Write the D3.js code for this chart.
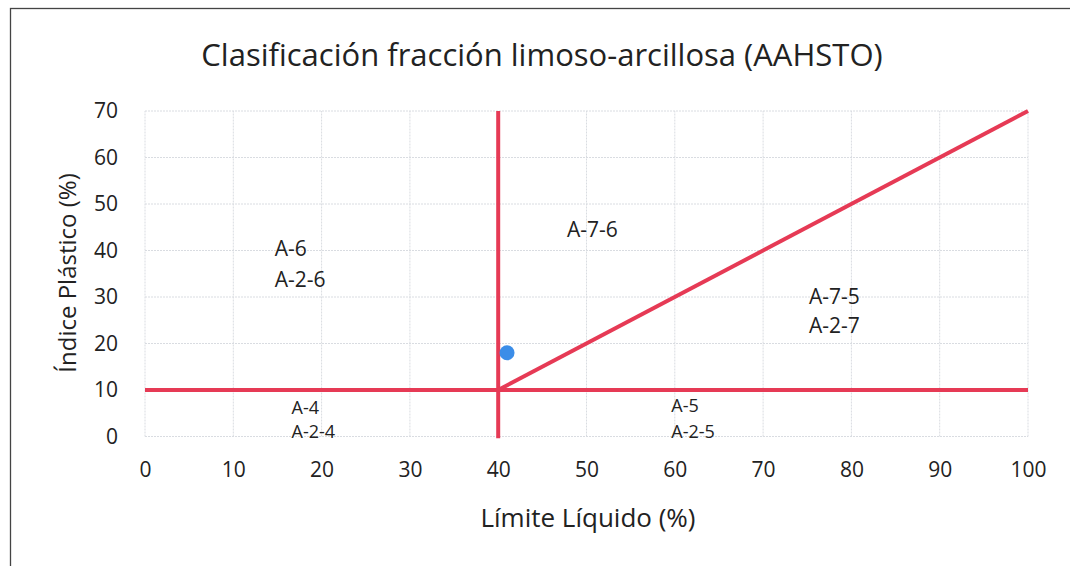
<!DOCTYPE html>
<html><head><meta charset="utf-8">
<script src="https://cdn.jsdelivr.net/npm/d3@7"></script>
<style>
body{margin:0;background:#fff;}
svg text{font-family:"Open Sans","Noto Sans",sans-serif;fill:#222;}
</style></head>
<body><svg id="c" width="1070" height="566"></svg>
<script>
const title = "Clasificación fracción limoso-arcillosa (AAHSTO)";
const xTitle = "Límite Líquido (%)";
const yTitle = "Índice Plástico (%)";
const xTicks = [0,10,20,30,40,50,60,70,80,90,100];
const yTicks = [0,10,20,30,40,50,60,70];
const lineHorizontal = [[0,10],[100,10]];
const lineVertical = [[40,70],[40,-0.4]];
const lineDiagonal = [[40,10],[100,70]];
const samplePoint = [[41,18]];
const zoneLabels = [
  {t:"A-6", x:14.7, y:40.5, big:true},
  {t:"A-2-6", x:14.7, y:33.8, big:true},
  {t:"A-7-6", x:47.8, y:44.4, big:true},
  {t:"A-7-5", x:75.2, y:30.0, big:true},
  {t:"A-2-7", x:75.2, y:23.9, big:true},
  {t:"A-4", x:16.6, y:6.3, big:false},
  {t:"A-2-4", x:16.6, y:1.1, big:false},
  {t:"A-5", x:59.6, y:6.6, big:false},
  {t:"A-2-5", x:59.6, y:1.1, big:false}
];

const svg = d3.select("#c");
svg.append("rect").attr("x",10.5).attr("y",8.5).attr("width",1080).attr("height",600)
  .attr("fill","none").attr("stroke","#444").attr("stroke-width",1.3);

const x = d3.scaleLinear().domain([0,100]).range([145,1028]);
const y = d3.scaleLinear().domain([0,70]).range([436.5,111]);

const g = svg.append("g");
g.selectAll(".gx").data(xTicks).enter().append("line")
  .attr("x1",d=>x(d)).attr("x2",d=>x(d)).attr("y1",y(0)).attr("y2",y(70))
  .attr("stroke","#d9dce1").attr("stroke-width",1).attr("stroke-dasharray","2,1");
g.selectAll(".gy").data(yTicks).enter().append("line")
  .attr("y1",d=>y(d)).attr("y2",d=>y(d)).attr("x1",x(0)).attr("x2",x(100))
  .attr("stroke","#d9dce1").attr("stroke-width",1).attr("stroke-dasharray","2,1");

const xa = svg.append("g").attr("transform",`translate(0,${y(0)})`)
  .call(d3.axisBottom(x).tickValues(xTicks).tickSize(0).tickPadding(26));
xa.select(".domain").remove();
xa.selectAll("text").attr("font-size",21).style("fill","#222");
const ya = svg.append("g").attr("transform",`translate(${x(0)},0)`)
  .call(d3.axisLeft(y).tickValues(yTicks).tickSize(0).tickPadding(27));
ya.select(".domain").remove();
ya.selectAll("text").attr("font-size",21).style("fill","#222");

const line = d3.line().x(d=>x(d[0])).y(d=>y(d[1]));
[lineHorizontal, lineVertical, lineDiagonal].forEach(l=>{
  svg.append("path").datum(l).attr("d",line).attr("fill","none")
    .attr("stroke","#e63a55").attr("stroke-width",4).attr("stroke-linecap","butt");
});

svg.selectAll(".pt").data(samplePoint).enter().append("circle")
  .attr("cx",d=>x(d[0])).attr("cy",d=>y(d[1])).attr("r",7.5).attr("fill","#3b8de8");

svg.selectAll(".zl").data(zoneLabels).enter().append("text")
  .attr("x",d=>x(d.x)).attr("y",d=>y(d.y)).attr("dy","0.35em")
  .attr("font-size",d=>d.big?21:18)
  .text(d=>d.t);

svg.append("text").attr("x",542).attr("y",55).attr("dy","0.35em").attr("text-anchor","middle")
  .attr("font-size",31).text(title);
svg.append("text").attr("x",588).attr("y",518).attr("dy","0.35em").attr("text-anchor","middle")
  .attr("font-size",26).text(xTitle);
svg.append("text").attr("transform","translate(68,273) rotate(-90)").attr("dy","0.35em")
  .attr("text-anchor","middle").attr("font-size",24).text(yTitle);
</script></body></html>
